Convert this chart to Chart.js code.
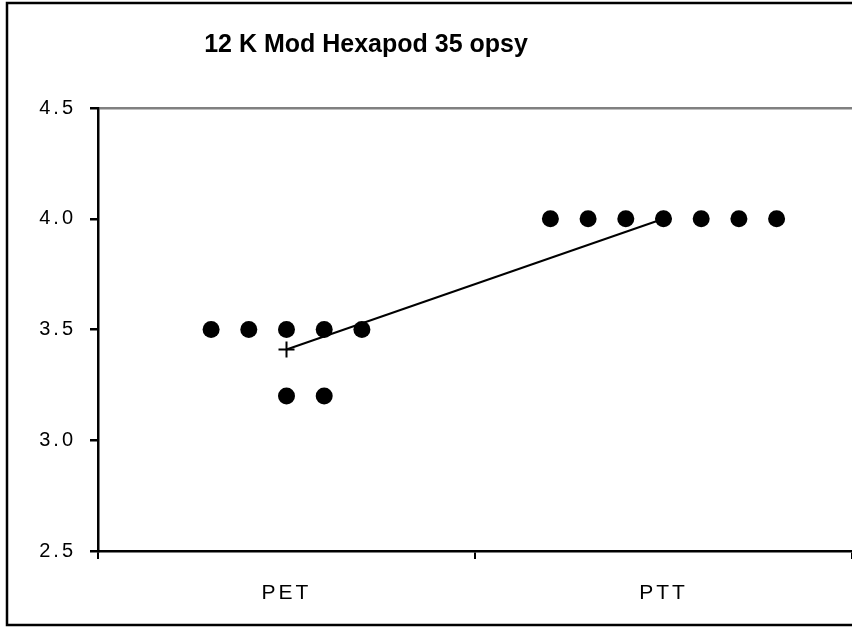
<!DOCTYPE html>
<html>
<head>
<meta charset="utf-8">
<script src="https://cdn.jsdelivr.net/npm/chart.js@4/dist/chart.umd.min.js"></script>
<style>
	html, body { margin: 0; padding: 0; background: #fff; overflow: hidden; }
	#wrap { width: 852px; height: 627px; }
	canvas { display: block; }
</style>
</head>
<body>
<div id="wrap"><canvas id="myChart" width="852" height="627"></canvas></div>
<script>
const chartTitle = "12 K Mod Hexapod 35 opsy";
const categories = ["PET", "PTT"];
const yTicks = [2.5, 3.0, 3.5, 4.0, 4.5];

// PET: jittered positions around the category centre (0)
const petX = [-0.2, -0.1, 0, 0.1, 0.2, 0, 0.1];
const petY = [3.5, 3.5, 3.5, 3.5, 3.5, 3.2, 3.2];

// PTT: centre is 1
const pttX = [0.7, 0.8, 0.9, 1, 1.1, 1.2, 1.3];
const pttY = [4.0, 4.0, 4.0, 4.0, 4.0, 4.0, 4.0];

// group means
const meanX = [0, 1];
const meanY = [3.41, 4.0];

const font = "'Liberation Sans', Arial, sans-serif";

function points(xs, ys) {
	return xs.map((x, i) => ({x, y: ys[i]}));
}

const framePlugin = {
	id: "frame",
	beforeDraw(chart) {
		// old Excel screen font look: widely spaced letters
		chart.ctx.letterSpacing = "3px";
	},
	afterDraw(chart) {
		const ctx = chart.ctx;
		ctx.save();
		ctx.letterSpacing = "0px";
		ctx.strokeStyle = "#000";
		ctx.lineWidth = 2.5;
		ctx.strokeRect(7, 3, 900, 622);
		ctx.fillStyle = "#000";
		ctx.font = "bold 25px " + font;
		ctx.textAlign = "center";
		ctx.textBaseline = "middle";
		ctx.fillText(chartTitle, 366, 45);
		ctx.restore();
	}
};

const datasets = [
	{
		type: "line",
		label: "mean",
		xAxisID: "xv",
		data: points(meanX, meanY),
		borderColor: "#000",
		borderWidth: 2,
		pointStyle: "cross",
		pointRadius: 8,
		pointBorderWidth: 2,
		pointBorderColor: "#000"
	},
	{
		type: "scatter",
		label: "PET",
		xAxisID: "xv",
		data: points(petX, petY),
		backgroundColor: "#000",
		borderWidth: 0,
		pointRadius: 8.5
	},
	{
		type: "scatter",
		label: "PTT",
		xAxisID: "xv",
		data: points(pttX, pttY),
		backgroundColor: "#000",
		borderWidth: 0,
		pointRadius: 8.5
	}
];

const ctx = document.getElementById("myChart").getContext("2d");
const myChart = new Chart(ctx, {
	data: {labels: categories, datasets},
	plugins: [framePlugin],
	options: {
		responsive: false,
		animation: false,
		layout: {autoPadding: false, padding: {left: 0, right: 0, top: 108, bottom: 0}},
		plugins: {
			legend: {display: false},
			title: {display: false},
			tooltip: {enabled: false}
		},
		scales: {
			x: {
				type: "category",
				offset: true,
				grid: {
					offset: true,
					drawOnChartArea: false,
					tickLength: 8,
					tickColor: "#000",
					lineWidth: 2
				},
				border: {color: "#000", width: 2.5},
				ticks: {color: "#000", padding: 22, font: {family: font, size: 21}},
				afterFit: s => {
					s.height = 76;
					s.paddingLeft = 0;
					s.paddingRight = 0;
				}
			},
			xv: {
				type: "linear",
				display: false,
				min: -0.5,
				max: 1.5
			},
			y: {
				min: 2.5,
				max: 4.5,
				afterBuildTicks: s => { s.ticks = yTicks.map(value => ({value})); },
				grid: {
					color: c => c.tick && c.tick.value === 4.5 ? "#808080" : "transparent",
					lineWidth: 2.5,
					tickLength: 8,
					tickColor: "#000"
				},
				border: {color: "#000", width: 2.5},
				ticks: {
					color: "#000",
					padding: 14,
					font: {family: font, size: 20},
					callback: v => Number(v).toFixed(1)
				},
				afterFit: s => { s.width = 98; }
			}
		}
	}
});
</script>
</body>
</html>
